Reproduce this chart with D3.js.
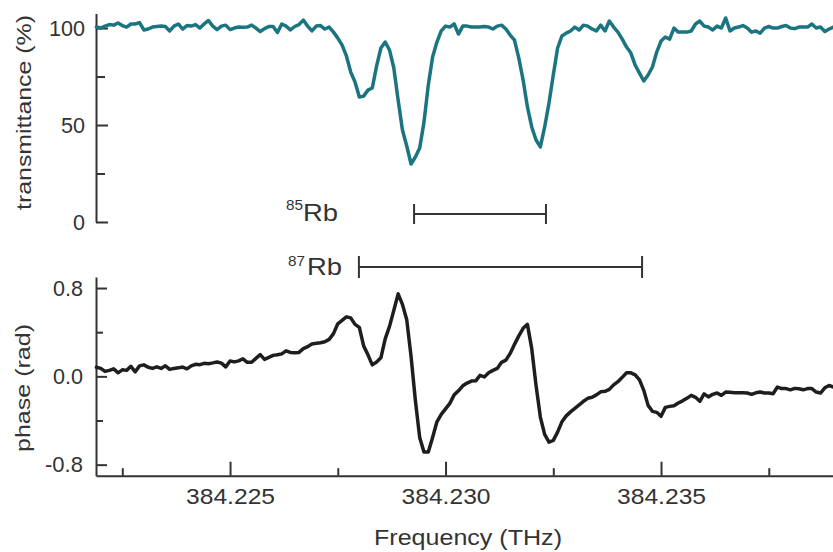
<!DOCTYPE html>
<html>
<head>
<meta charset="utf-8">
<script src="https://cdn.jsdelivr.net/npm/d3@7"></script>
<style>
  html, body { margin: 0; padding: 0; background: #fff; }
  svg { display: block; font-family: "Liberation Sans", Arial, sans-serif; }
</style>
</head>
<body>
<script>
// ---------- DATA ----------
const freqTHz = [
  384.2219, 384.2220, 384.2221, 384.2222, 384.2223, 384.2224, 384.2225, 384.2226, 384.2227, 384.2228,
  384.2229, 384.2230, 384.2231, 384.2232, 384.2233, 384.2234, 384.2235, 384.2236, 384.2237, 384.2238,
  384.2239, 384.2240, 384.2241, 384.2242, 384.2243, 384.2244, 384.2245, 384.2246, 384.2247, 384.2248,
  384.2249, 384.2250, 384.2251, 384.2252, 384.2253, 384.2254, 384.2255, 384.2256, 384.2257, 384.2258,
  384.2259, 384.2260, 384.2261, 384.2262, 384.2263, 384.2264, 384.2265, 384.2266, 384.2267, 384.2268,
  384.2269, 384.2270, 384.2271, 384.2272, 384.2273, 384.2274, 384.2275, 384.2276, 384.2277, 384.2278,
  384.2279, 384.2280, 384.2281, 384.2282, 384.2283, 384.2284, 384.2285, 384.2286, 384.2287, 384.2288,
  384.2289, 384.2290, 384.2291, 384.2292, 384.2293, 384.2294, 384.2295, 384.2296, 384.2297, 384.2298,
  384.2299, 384.2300, 384.2301, 384.2302, 384.2303, 384.2304, 384.2305, 384.2306, 384.2307, 384.2308,
  384.2309, 384.2310, 384.2311, 384.2312, 384.2313, 384.2314, 384.2315, 384.2316, 384.2317, 384.2318,
  384.2319, 384.2320, 384.2321, 384.2322, 384.2323, 384.2324, 384.2325, 384.2326, 384.2327, 384.2328,
  384.2329, 384.2330, 384.2331, 384.2332, 384.2333, 384.2334, 384.2335, 384.2336, 384.2337, 384.2338,
  384.2339, 384.2340, 384.2341, 384.2342, 384.2343, 384.2344, 384.2345, 384.2346, 384.2347, 384.2348,
  384.2349, 384.2350, 384.2351, 384.2352, 384.2353, 384.2354, 384.2355, 384.2356, 384.2357, 384.2358,
  384.2359, 384.2360, 384.2361, 384.2362, 384.2363, 384.2364, 384.2365, 384.2366, 384.2367, 384.2368,
  384.2369, 384.2370, 384.2371, 384.2372, 384.2373, 384.2374, 384.2375, 384.2376, 384.2377, 384.2378,
  384.2379, 384.2380, 384.2381, 384.2382, 384.2383, 384.2384, 384.2385, 384.2386, 384.2387, 384.2388,
  384.2389, 384.2390
];

const transmittance = [
  100.5, 100.0, 101.0, 101.8, 101.5, 102.6, 101.3, 100.5, 102.1, 102.1,
  102.8, 99.0, 99.5, 100.5, 100.8, 101.0, 100.8, 98.5, 101.0, 102.1,
  99.5, 101.3, 101.0, 101.8, 100.0, 102.1, 103.9, 101.0, 99.2, 101.0,
  101.5, 99.2, 100.0, 100.5, 100.4, 100.5, 101.5, 100.0, 98.2, 99.7,
  100.8, 100.8, 97.7, 102.1, 101.0, 99.0, 100.8, 101.8, 104.1, 101.0,
  98.5, 101.0, 101.3, 99.5, 100.5, 97.9, 94.8, 91.2, 85.6, 77.3,
  72.2, 64.4, 64.9, 68.0, 69.1, 80.4, 89.7, 92.8, 88.7, 79.4,
  62.9, 47.4, 39.2, 29.9, 33.5, 38.1, 51.5, 70.6, 85.1, 92.8,
  98.5, 101.0, 100.5, 102.1, 96.9, 101.0, 101.0, 100.5, 100.5, 100.5,
  100.8, 100.5, 99.5, 101.0, 101.5, 99.5, 96.4, 93.8, 84.5, 73.2,
  59.3, 49.0, 42.3, 38.7, 49.0, 61.3, 75.8, 89.7, 95.9, 97.4,
  98.5, 100.5, 99.0, 101.5, 101.0, 99.5, 98.5, 101.5, 98.5, 103.6,
  100.5, 97.9, 94.3, 90.2, 87.1, 80.9, 76.8, 72.7, 75.8, 79.9,
  87.6, 93.3, 95.4, 94.3, 100.0, 97.9, 97.9, 97.9, 98.5, 102.1,
  103.6, 101.0, 100.5, 99.0, 101.0, 100.0, 105.2, 98.5, 100.0, 100.5,
  101.3, 100.0, 97.9, 98.5, 97.4, 100.0, 100.8, 100.0, 100.0, 100.8,
  101.3, 100.0, 99.7, 100.5, 100.5, 100.5, 102.1, 100.0, 100.5, 98.2,
  99.5, 100.5
];

const phaseRad = [
  0.082, 0.072, 0.045, 0.054, 0.068, 0.032, 0.059, 0.054, 0.091, 0.041,
  0.095, 0.104, 0.082, 0.072, 0.086, 0.072, 0.095, 0.063, 0.072, 0.077,
  0.084, 0.068, 0.095, 0.109, 0.106, 0.118, 0.115, 0.122, 0.130, 0.120,
  0.086, 0.139, 0.131, 0.140, 0.159, 0.127, 0.127, 0.163, 0.197, 0.154,
  0.172, 0.190, 0.195, 0.204, 0.231, 0.217, 0.213, 0.217, 0.251, 0.269,
  0.294, 0.299, 0.305, 0.314, 0.335, 0.387, 0.476, 0.507, 0.539, 0.530,
  0.471, 0.444, 0.276, 0.195, 0.104, 0.130, 0.168, 0.340, 0.453, 0.598,
  0.747, 0.652, 0.512, 0.181, -0.217, -0.553, -0.686, -0.686, -0.553, -0.412,
  -0.344, -0.294, -0.245, -0.168, -0.131, -0.086, -0.061, -0.043, -0.041, 0.009,
  -0.005, 0.032, 0.054, 0.072, 0.127, 0.147, 0.208, 0.290, 0.367, 0.435,
  0.471, 0.251, -0.082, -0.369, -0.525, -0.596, -0.580, -0.505, -0.412, -0.358,
  -0.322, -0.290, -0.258, -0.226, -0.199, -0.190, -0.168, -0.140, -0.136, -0.118,
  -0.077, -0.048, -0.009, 0.032, 0.032, 0.014, -0.032, -0.127, -0.263, -0.317,
  -0.326, -0.362, -0.281, -0.272, -0.267, -0.242, -0.222, -0.199, -0.172, -0.190,
  -0.226, -0.159, -0.186, -0.163, -0.151, -0.172, -0.142, -0.145, -0.148, -0.148,
  -0.149, -0.151, -0.163, -0.149, -0.142, -0.151, -0.151, -0.157, -0.097, -0.111,
  -0.111, -0.122, -0.109, -0.113, -0.122, -0.111, -0.111, -0.142, -0.151, -0.104,
  -0.082, -0.097
];

const xMajorTicks = [384.225, 384.230, 384.235];
const xMajorLabels = ["384.225", "384.230", "384.235"];
const xMinorTicks = [384.2225, 384.2275, 384.2325, 384.2375];

const transMajorTicks = [0, 50, 100];
const transMajorLabels = ["0", "50", "100"];
const transMinorTicks = [25, 75];

const phaseMajorTicks = [-0.8, 0.0, 0.8];
const phaseMajorLabels = ["-0.8", "0.0", "0.8"];
const phaseMinorTicks = [-0.4, 0.4];

// isotope line spacing markers (frequency spans)
const rbIsotopes = ["85", "87"];
const rbStart = [384.22927, 384.22799];
const rbEnd = [384.23233, 384.23456];

// ---------- DRAW ----------
const W = 833, H = 552;
const AX = "#333";
const FONT = '"Liberation Sans", Arial, sans-serif';
const svg = d3.select("body").append("svg").attr("width", W).attr("height", H);
svg.append("rect").attr("width", W).attr("height", H).attr("fill", "#fff");

const x = d3.scaleLinear().domain([384.22189, 384.23899]).range([96, 833]);
const yT = d3.scaleLinear().domain([0, 107.5]).range([222, 13.5]);
const yP = d3.scaleLinear().domain([-0.9, 0.9]).range([475.7, 277]);

// approximate rendered width per character, used to match the reference's wide lettering
function labelWidth(s) {
  let w = 0;
  for (const c of s) w += (c === "." ? 6 : c === "-" ? 8 : 12);
  return w;
}

function styleAxis(g) {
  g.attr("color", AX).attr("font-size", null).attr("font-family", null);
  g.selectAll("path.domain").attr("stroke-width", 2);
  g.selectAll(".tick line").attr("stroke-width", 2);
  g.selectAll("text").style("font-size", "22px").style("font-family", FONT).attr("fill", AX);
}

// Top y axis
svg.append("g").attr("transform", "translate(96,0)")
  .call(d3.axisLeft(yT).tickValues(transMajorTicks)
    .tickFormat((d, i) => transMajorLabels[i]).tickSizeInner(-12).tickSizeOuter(0).tickPadding(11))
  .call(styleAxis)
  .call(g => g.selectAll("text").each(function () {
    d3.select(this).attr("textLength", labelWidth(this.textContent)).attr("lengthAdjust", "spacingAndGlyphs");
  }));
svg.append("g").attr("transform", "translate(96,0)")
  .call(d3.axisLeft(yT).tickValues(transMinorTicks).tickFormat("").tickSizeInner(-9).tickSizeOuter(0))
  .call(g => g.select("path.domain").remove())
  .call(styleAxis);

// Bottom y axis
svg.append("g").attr("transform", "translate(96,0)")
  .call(d3.axisLeft(yP).tickValues(phaseMajorTicks)
    .tickFormat((d, i) => phaseMajorLabels[i]).tickSizeInner(-11).tickSizeOuter(0).tickPadding(13))
  .call(styleAxis)
  .call(g => g.selectAll("text").each(function () {
    d3.select(this).attr("textLength", labelWidth(this.textContent)).attr("lengthAdjust", "spacingAndGlyphs");
  }));
svg.append("g").attr("transform", "translate(96,0)")
  .call(d3.axisLeft(yP).tickValues(phaseMinorTicks).tickFormat("").tickSizeInner(-7).tickSizeOuter(0))
  .call(g => g.select("path.domain").remove())
  .call(styleAxis);

// x axis
svg.append("g").attr("transform", "translate(0,475.7)")
  .call(d3.axisBottom(x).tickValues(xMajorTicks)
    .tickFormat((d, i) => xMajorLabels[i]).tickSizeInner(-14).tickSizeOuter(0).tickPadding(13))
  .call(styleAxis)
  .call(g => g.selectAll("text").attr("textLength", 89).attr("lengthAdjust", "spacingAndGlyphs"));
svg.append("g").attr("transform", "translate(0,475.7)")
  .call(d3.axisBottom(x).tickValues(xMinorTicks).tickFormat("").tickSizeInner(-7.5).tickSizeOuter(0))
  .call(g => g.select("path.domain").remove())
  .call(styleAxis);

// Axis titles
svg.append("text").attr("x", 468).attr("y", 545).attr("text-anchor", "middle")
  .style("font-size", "22px").style("font-family", FONT).attr("fill", AX)
  .attr("textLength", 188).attr("lengthAdjust", "spacingAndGlyphs")
  .text("Frequency (THz)");
svg.append("text").attr("transform", "translate(31,112.5) rotate(-90)").attr("text-anchor", "middle")
  .style("font-size", "20px").style("font-family", FONT).attr("fill", AX)
  .attr("textLength", 195).attr("lengthAdjust", "spacingAndGlyphs")
  .text("transmittance (%)");
svg.append("text").attr("transform", "translate(30,388) rotate(-90)").attr("text-anchor", "middle")
  .style("font-size", "20px").style("font-family", FONT).attr("fill", AX)
  .attr("textLength", 128).attr("lengthAdjust", "spacingAndGlyphs")
  .text("phase (rad)");

// Curves
const lineT = d3.line().x((d, i) => x(freqTHz[i])).y(d => yT(d));
const lineP = d3.line().x((d, i) => x(freqTHz[i])).y(d => yP(d));
svg.append("path").datum(transmittance).attr("d", lineT)
  .attr("fill", "none").attr("stroke", "#1a7580").attr("stroke-width", 3.5)
  .attr("stroke-linejoin", "round").attr("stroke-linecap", "round");
svg.append("path").datum(phaseRad).attr("d", lineP)
  .attr("fill", "none").attr("stroke", "#1e1e1e").attr("stroke-width", 3.5)
  .attr("stroke-linejoin", "round").attr("stroke-linecap", "round");

// Isotope markers
const barY = [214, 267];
const capH = [10, 11];
const supX = [286, 288], supBase = [210, 266];
const rbX = [303, 307], rbBase = [221, 275];
rbIsotopes.forEach((iso, i) => {
  const g = svg.append("g").attr("stroke", AX).attr("stroke-width", 2);
  g.append("line").attr("x1", x(rbStart[i])).attr("x2", x(rbEnd[i])).attr("y1", barY[i]).attr("y2", barY[i]);
  g.append("line").attr("x1", x(rbStart[i])).attr("x2", x(rbStart[i])).attr("y1", barY[i] - capH[i]).attr("y2", barY[i] + capH[i]);
  g.append("line").attr("x1", x(rbEnd[i])).attr("x2", x(rbEnd[i])).attr("y1", barY[i] - capH[i]).attr("y2", barY[i] + capH[i]);
  svg.append("text").attr("x", supX[i]).attr("y", supBase[i]).style("font-size", "14px").style("font-family", FONT).attr("fill", AX)
    .attr("textLength", 17).attr("lengthAdjust", "spacingAndGlyphs").text(iso);
  svg.append("text").attr("x", rbX[i]).attr("y", rbBase[i]).style("font-size", "24px").style("font-family", FONT).attr("fill", AX)
    .attr("textLength", 35).attr("lengthAdjust", "spacingAndGlyphs").text("Rb");
});
</script>
</body>
</html>
